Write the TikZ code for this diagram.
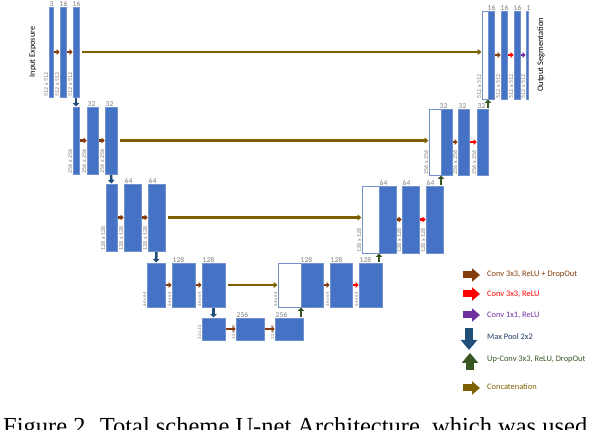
\documentclass[tikz,border=0pt]{standalone}
\usepackage{fontspec}
\setmainfont{Carlito}
\newfontfamily\capfont{Liberation Serif}
\usetikzlibrary{arrows.meta,fit}
\definecolor{bfill}{HTML}{4472C4}
\definecolor{bline}{HTML}{7290CC}
\definecolor{lblgray}{HTML}{7F7F7F}
\definecolor{cbrown}{HTML}{843C0C}
\definecolor{cred}{HTML}{FF0000}
\definecolor{cpurple}{HTML}{7030A0}
\definecolor{cpool}{HTML}{1F4E79}
\definecolor{cpooltxt}{HTML}{1F3864}
\definecolor{cup}{HTML}{375623}
\definecolor{ccat}{HTML}{7F6000}
\tikzset{
  blk/.style={draw=bline, fill=bfill, line width=0.6pt, inner sep=0pt, outer sep=0pt},
  wht/.style={draw=bline, fill=white, line width=0.6pt, inner sep=0pt, outer sep=0pt},
  chl/.style={text=lblgray, font=\fontsize{7.5}{8}\selectfont, anchor=south west, inner sep=0.5pt},
  szl/.style={text=lblgray, font=\fontsize{6}{6}\selectfont, rotate=90, anchor=south west, inner sep=0.6pt},
  szs/.style={szl, font=\fontsize{4.8}{5}\selectfont},
  smallarr/.style={line width=2.2pt, -{Triangle[length=3pt,width=5.5pt]}, shorten <=1pt, shorten >=0.3pt},
  convd/.style={smallarr, draw=cbrown},
  convr/.style={smallarr, draw=cred},
  convone/.style={smallarr, draw=cpurple},
  vertarr/.style={line width=2.6pt, -{Triangle[length=3.5pt,width=6.5pt]}, shorten <=1pt, shorten >=0.5pt},
  pool/.style={vertarr, draw=cpool},
  upc/.style={vertarr, draw=cup},
  cat/.style={draw=ccat, line width=2.2pt, -{Triangle[length=4pt,width=6pt]}, shorten <=3pt, shorten >=0.5pt},
  lgt/.style={anchor=west, font=\fontsize{8.4}{9}\selectfont, inner sep=0pt},
  lgh/.style={line width=7pt, -{Triangle[length=8pt,width=13pt]}},
  lgv/.style={line width=8pt, -{Triangle[length=10pt,width=16pt]}},
  sidetxt/.style={rotate=90, font=\fontsize{8.3}{9}\selectfont, inner sep=0pt}
}
\newcommand\ublk[5]{\node[blk, fit={(#2,#3) (#4,#5)}] (#1) {};}
\newcommand\uwht[5]{\node[wht, fit={(#2,#3) (#4,#5)}] (#1) {};}
\begin{document}
\begin{tikzpicture}[x=1pt,y=-1pt]
\useasboundingbox (0,0) rectangle (590,430);
\clip (0,0) rectangle (590,430);
% ---------- level 1 ----------
\ublk{La1}{49}{7}{53}{97}
\ublk{Lb1}{60}{7}{66}{97}
\ublk{Lc1}{73}{7}{79}{97}
\uwht{Rw1}{482}{11}{488}{99}
\ublk{Rb1}{488}{11}{494}{99}
\ublk{Rc1}{501}{11}{507}{99}
\ublk{Rd1}{514}{11}{520}{99}
\ublk{Re1}{526}{11}{528}{99}
% ---------- level 2 ----------
\ublk{La2}{73}{107}{79}{174}
\ublk{Lb2}{87}{107}{98}{174}
\ublk{Lc2}{105}{107}{117}{174}
\uwht{Rw2}{429}{109}{441}{175}
\ublk{Rb2}{441}{109}{452}{175}
\ublk{Rc2}{458}{109}{469}{175}
\ublk{Rd2}{477}{109}{488}{175}
% ---------- level 3 ----------
\ublk{La3}{106}{184}{117}{251}
\ublk{Lb3}{124}{184}{141}{251}
\ublk{Lc3}{148}{184}{165}{251}
\uwht{Rw3}{362}{186}{379}{253}
\ublk{Rb3}{379}{186}{396}{253}
\ublk{Rc3}{402}{186}{419}{253}
\ublk{Rd3}{426}{186}{443}{253}
% ---------- level 4 ----------
\ublk{La4}{147}{263}{165}{307}
\ublk{Lb4}{172}{263}{195}{307}
\ublk{Lc4}{202}{263}{225}{307}
\uwht{Rw4}{278}{263}{301}{307}
\ublk{Rb4}{301}{263}{323}{307}
\ublk{Rc4}{330}{263}{352}{307}
\ublk{Rd4}{359}{263}{382}{307}
% ---------- level 5 ----------
\ublk{La5}{202}{318}{225}{340}
\ublk{Lb5}{236}{318}{264}{340}
\ublk{Lc5}{275}{318}{303}{340}

% ---------- channel labels ----------
\node[chl] (cA1) at (La1.north west) {3};
\node[chl] (cB1) at ([xshift=-1pt]Lb1.north west) {16};
\node[chl] (cC1) at ([xshift=-1pt]Lc1.north west) {16};
\node[chl] (cRb1) at ([xshift=-1pt]Rb1.north west) {16};
\node[chl] (cRc1) at ([xshift=-1pt]Rc1.north west) {16};
\node[chl] (cRd1) at ([xshift=-1pt]Rd1.north west) {16};
\node[chl] (cRe1) at ([xshift=0pt]Re1.north west) {1};
\node[chl] (cB2) at (Lb2.north west) {32};
\node[chl] (cC2) at (Lc2.north west) {32};
\node[chl] (cRb2) at ([xshift=-2pt]Rb2.north west) {32};
\node[chl] (cRc2) at (Rc2.north west) {32};
\node[chl] (cRd2) at (Rd2.north west) {32};
\node[chl] (cB3) at (Lb3.north west) {64};
\node[chl] (cC3) at (Lc3.north west) {64};
\node[chl] (cRb3) at (Rb3.north west) {64};
\node[chl] (cRc3) at (Rc3.north west) {64};
\node[chl] (cRd3) at (Rd3.north west) {64};
\node[chl] (cB4) at (Lb4.north west) {128};
\node[chl] (cC4) at (Lc4.north west) {128};
\node[chl] (cRb4) at ([xshift=-1pt]Rb4.north west) {128};
\node[chl] (cRc4) at (Rc4.north west) {128};
\node[chl] (cRd4) at (Rd4.north west) {128};
\node[chl] (cB5) at (Lb5.north west) {256};
\node[chl] (cC5) at (Lc5.north west) {256};

% ---------- size labels ----------
\foreach \n in {La1,Lb1,Lc1,Rw1,Rc1,Rd1,Re1}{\node[szl] (s\n) at (\n.south west) {512 x 512};}
\foreach \n in {La2,Lb2,Lc2,Rw2,Rc2,Rd2}{\node[szl] (s\n) at (\n.south west) {256 x 256};}
\foreach \n in {La3,Lb3,Lc3,Rw3,Rc3,Rd3}{\node[szl] (s\n) at (\n.south west) {128 x 128};}
\foreach \n in {La4,Lb4,Lc4,Rw4,Rc4,Rd4}{\node[szs] (s\n) at (\n.south west) {64 x 64};}
\foreach \n in {La5,Lb5,Lc5}{\node[szs] (s\n) at (\n.south west) {32 x 32};}

% ---------- side texts ----------
\node[sidetxt] (inexp) at (33,52) {Input Exposure};
\node[sidetxt, font=\fontsize{8.4}{9}\selectfont] (outseg) at (541,55) {Output Segmentation};

% ---------- conv arrows ----------
\draw[convd] (La1.east) -- (Lb1.west|-La1.east);
\draw[convd] (Lb1.east) -- (Lc1.west|-Lb1.east);
\draw[convd] (Rb1.east) -- (Rc1.west|-Rb1.east);
\draw[convr] (Rc1.east) -- (Rd1.west|-Rc1.east);
\draw[convone] (Rd1.east) -- (Re1.west|-Rd1.east);
\draw[convd] (La2.east) -- (Lb2.west|-La2.east);
\draw[convd] (Lb2.east) -- (Lc2.west|-Lb2.east);
\draw[convd] (Rb2.east) -- (Rc2.west|-Rb2.east);
\draw[convr] (Rc2.east) -- (Rd2.west|-Rc2.east);
\draw[convd] (La3.east) -- (Lb3.west|-La3.east);
\draw[convd] (Lb3.east) -- (Lc3.west|-Lb3.east);
\draw[convd] (Rb3.east) -- (Rc3.west|-Rb3.east);
\draw[convr] (Rc3.east) -- (Rd3.west|-Rc3.east);
\draw[convd] (La4.east) -- (Lb4.west|-La4.east);
\draw[convd] (Lb4.east) -- (Lc4.west|-Lb4.east);
\draw[convd] (Rb4.east) -- (Rc4.west|-Rb4.east);
\draw[convr] (Rc4.east) -- (Rd4.west|-Rc4.east);
\draw[convd] (La5.east) -- (Lb5.west|-La5.east);
\draw[convd] (Lb5.east) -- (Lc5.west|-Lb5.east);

% ---------- concatenation ----------
\draw[cat] (Lc1.east) -- (Rw1.west|-Lc1.east);
\draw[cat] (Lc2.east) -- (Rw2.west|-Lc2.east);
\draw[cat] (Lc3.east) -- (Rw3.west|-Lc3.east);
\draw[cat] (Lc4.east) -- (Rw4.west|-Lc4.east);

% ---------- max pool ----------
\draw[pool] (Lc1.south) -- (La2.north);
\draw[pool] (Lc2.south) -- (La3.north);
\draw[pool] (Lc3.south) -- (La4.north);
\draw[pool] (Lc4.south) -- (La5.north);

% ---------- up-conv ----------
\draw[upc] (Rb1.south west|-Rd2.north) -- (Rb1.south west);
\draw[upc] (Rb2.south west|-Rd3.north) -- (Rb2.south west);
\draw[upc] (Rb3.south west|-Rd4.north) -- (Rb3.south west);
\draw[upc] (Rb4.south west|-Lc5.north) -- (Rb4.south west);

% ---------- legend ----------
\node[lgt, text=cbrown] (lt1) at (487,274) {Conv 3x3, ReLU + DropOut};
\node[lgt, text=cred] (lt2) at (487,294) {Conv 3x3, ReLU};
\node[lgt, text=cpurple] (lt3) at (487,315) {Conv 1x1, ReLU};
\node[lgt, text=cpooltxt] (lt4) at (487,337) {Max Pool 2x2};
\node[lgt, text=cup] (lt5) at (487,359) {Up-Conv 3x3, ReLU, DropOut};
\node[lgt, text=ccat] (lt6) at (487,387) {Concatenation};
\coordinate (la1) at (463,275); \coordinate (lb1) at (480,275);
\coordinate (la2) at (463,294); \coordinate (lb2) at (480,294);
\coordinate (la3) at (463,315); \coordinate (lb3) at (480,315);
\coordinate (la4) at (469,328); \coordinate (lb4) at (469,350);
\coordinate (la5) at (470,370); \coordinate (lb5) at (470,353);
\coordinate (la6) at (463,388); \coordinate (lb6) at (480,388);
\draw[lgh, draw=cbrown] (la1) -- (lb1);
\draw[lgh, draw=cred] (la2) -- (lb2);
\draw[lgh, draw=cpurple] (la3) -- (lb3);
\draw[lgv, draw=cpool] (la4) -- (lb4);
\draw[lgv, draw=cup] (la5) -- (lb5);
\draw[lgh, draw=ccat] (la6) -- (lb6);

% ---------- caption (cut at bottom, as in the reference) ----------
\node[anchor=base west, inner sep=0pt, font=\capfont\fontsize{24.5}{28}\selectfont] (caption) at (3,435) {Figure 2. Total scheme U-net Architecture, which was used};
\end{tikzpicture}
\end{document}
